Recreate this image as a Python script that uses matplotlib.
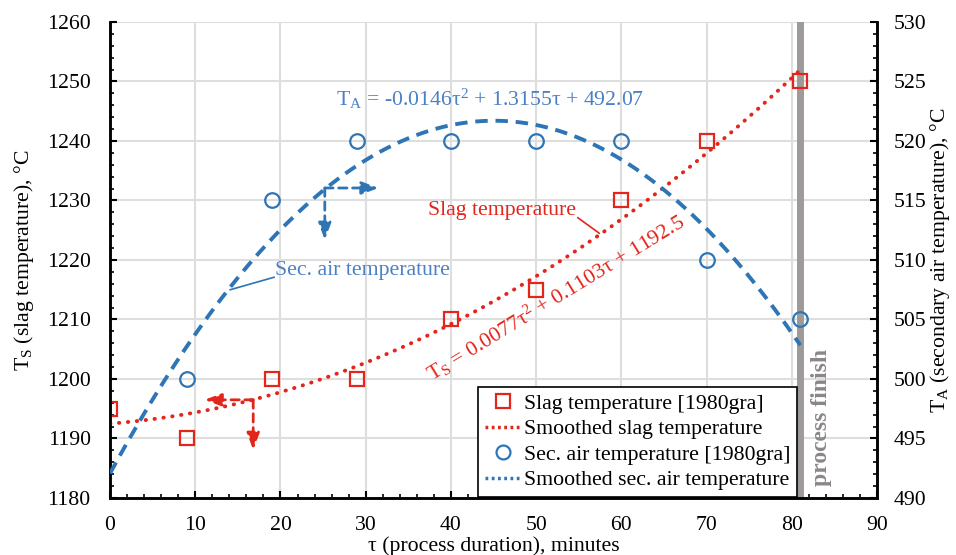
import numpy as np
import matplotlib
matplotlib.use("Agg")
import matplotlib.pyplot as plt
from matplotlib.ticker import MultipleLocator
from matplotlib.lines import Line2D

plt.rcParams['font.family'] = ['Liberation Serif', 'DejaVu Serif']
plt.rcParams['mathtext.fontset'] = 'custom'
plt.rcParams['mathtext.rm'] = 'Liberation Serif'
plt.rcParams['mathtext.it'] = 'Liberation Serif:italic'

# ---- data ----
slag_time = [0, 9, 19, 29, 40, 50, 60, 70, 81]
slag_temp = [1195, 1190, 1200, 1200, 1210, 1215, 1230, 1240, 1250]
air_time = [9, 19, 29, 40, 50, 60, 70, 81]
air_temp = [500, 515, 520, 520, 520, 520, 510, 505]
slag_fit_coef = [0.0077, 0.1103, 1192.5]
air_fit_coef = [-0.0146, 1.3155, 492.07]
finish_time = 81

RED = '#e3261c'
BLUE = '#2e75b6'
BLUE_TXT = '#4a80c4'
GRAY = '#9e9a99'
FS = 15.7

fig = plt.figure(figsize=(9.56, 5.55), dpi=100)
ax = fig.add_axes([0.1151, 0.1027, 0.8023, 0.8577])
ax2 = ax.twinx()

ax.set_xlim(0, 90)
ax.set_ylim(1180, 1260)
ax2.set_ylim(490, 530)

ax.xaxis.set_major_locator(MultipleLocator(10))
ax.xaxis.set_minor_locator(MultipleLocator(2))
ax.yaxis.set_major_locator(MultipleLocator(10))
ax.yaxis.set_minor_locator(MultipleLocator(2))
ax2.yaxis.set_major_locator(MultipleLocator(5))
ax2.yaxis.set_minor_locator(MultipleLocator(1))

ax.grid(True, which='major', color='#dedede', linewidth=1.5)
ax.set_axisbelow(True)
for a in (ax, ax2):
    a.spines['top'].set_visible(False)
    for s in ('left', 'right', 'bottom'):
        a.spines[s].set_linewidth(1.8)
ax.tick_params(which='major', direction='in', length=5, width=1.5, labelsize=FS, pad=14)
ax.tick_params(which='minor', direction='in', length=3, width=1.2)
ax.tick_params(axis='x', pad=13)
ax2.tick_params(which='major', direction='in', length=5, width=1.5, labelsize=FS, pad=12)
ax2.tick_params(which='minor', direction='in', length=3, width=1.2)

# process finish line
ax.axvline(finish_time, color=GRAY, linewidth=5, zorder=1.5)
ax.text(82.2, 1182.0, 'process finish', rotation=90, color='#8c8787',
        fontsize=17, fontweight='bold', ha='left', va='bottom')

# fitted curves
t = np.linspace(0, finish_time, 300)
ax.plot(t, np.polyval(slag_fit_coef, t), color=RED, linestyle=(0, (0.1, 2.2)),
        linewidth=2.8, dash_capstyle='round', zorder=3)
ax2.plot(t, np.polyval(air_fit_coef, t), color=BLUE, linestyle=(0, (3.2, 2.0)),
         linewidth=2.8, zorder=3)

# data points
ax.plot(slag_time, slag_temp, linestyle='none', marker='s', markersize=10.5,
        markerfacecolor='none', markeredgecolor=RED, markeredgewidth=1.6, zorder=4)
ax2.plot(air_time, air_temp, linestyle='none', marker='o', markersize=10.5,
         markerfacecolor='none', markeredgecolor=BLUE, markeredgewidth=1.6, zorder=4)

# labels
ax.set_xlabel('τ (process duration), minutes', fontsize=FS, labelpad=1)
ax.set_ylabel(r'T$_\mathrm{S}$ (slag temperature), °C', fontsize=FS, labelpad=8)
ax2.set_ylabel(r'T$_\mathrm{A}$ (secondary air temperature), °C', fontsize=FS,
               rotation=90, labelpad=1)

# equations / annotations
ax.text(26.5, 1247.0, r'T$_\mathrm{A}$ = -0.0146τ$^2$ + 1.3155τ + 492.07',
        color=BLUE_TXT, fontsize=FS, ha='left', va='center')
ax.text(37.8, 1199.6, r'T$_\mathrm{S}$ = 0.0077τ$^2$ + 0.1103τ + 1192.5',
        color=RED, fontsize=FS, rotation=31.5, rotation_mode='anchor',
        ha='left', va='baseline')
ax.text(37.3, 1228.4, 'Slag temperature', color=RED, fontsize=FS,
        ha='left', va='center')
ax.plot([54.9, 57.4], [1227.1, 1224.5], color=RED, linewidth=1.2)
ax.text(19.4, 1218.2, 'Sec. air temperature', color=BLUE_TXT, fontsize=FS,
        ha='left', va='center')
ax.plot([19.25, 14.1], [1217.1, 1215.0], color=BLUE, linewidth=1.2)

# direction arrows
def dash_arrow(x0, y0, x1, y1, color):
    ax.annotate('', xy=(x1, y1), xytext=(x0, y0),
                arrowprops=dict(arrowstyle='-|>,head_length=1.0,head_width=0.38',
                                color=color, linestyle=(0, (3, 2)), linewidth=2,
                                shrinkA=0, shrinkB=0), zorder=5)

dash_arrow(25.2, 1232.1, 31.5, 1232.1, BLUE)
dash_arrow(25.2, 1232.1, 25.2, 1223.4, BLUE)
dash_arrow(16.8, 1196.5, 11.1, 1196.5, RED)
dash_arrow(16.8, 1196.5, 16.8, 1188.1, RED)

# legend
handles = [
    Line2D([], [], linestyle='none', marker='s', markersize=10, markerfacecolor='none',
           markeredgecolor=RED, markeredgewidth=1.6),
    Line2D([], [], color=RED, linestyle=(0, (0.8, 1.0)), linewidth=2.5),
    Line2D([], [], linestyle='none', marker='o', markersize=10, markerfacecolor='none',
           markeredgecolor=BLUE, markeredgewidth=1.6),
    Line2D([], [], color=BLUE, linestyle=(0, (0.8, 1.0)), linewidth=2.5),
]
labels = ['Slag temperature [1980gra]', 'Smoothed slag temperature',
          'Sec. air temperature [1980gra]', 'Smoothed sec. air temperature']
leg = ax2.legend(handles, labels, loc='lower right', bbox_to_anchor=(0.897, 0.0),
                 fontsize=FS, frameon=True, fancybox=False, edgecolor='black',
                 framealpha=1, handlelength=1.7, handletextpad=0.1,
                 borderpad=0.3, labelspacing=0.24, borderaxespad=0.05)
leg.get_frame().set_linewidth(1.2)
leg.set_zorder(10)

fig.savefig('out.png', dpi=100)
